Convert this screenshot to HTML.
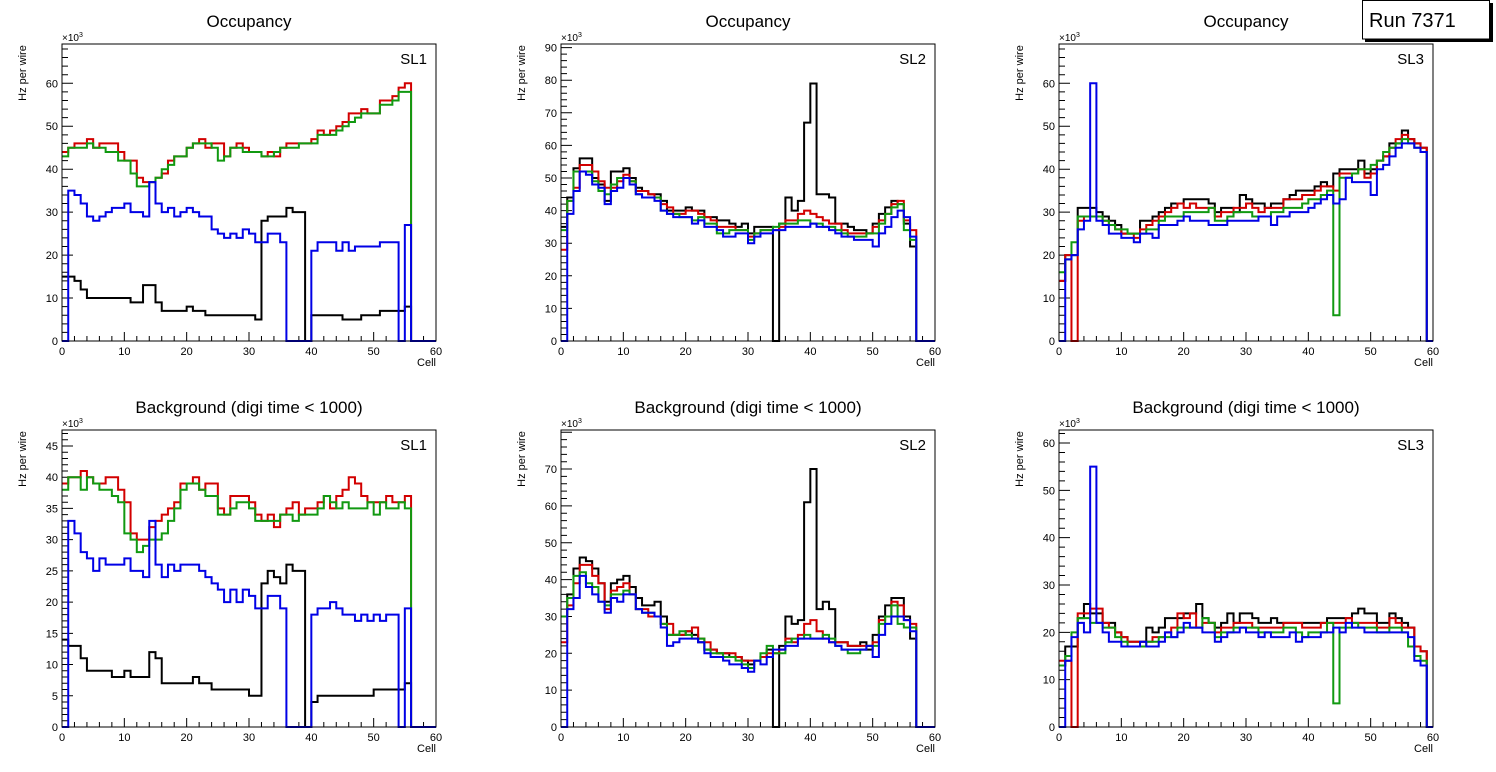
<!DOCTYPE html>
<html><head><meta charset="utf-8"><style>
html,body{margin:0;padding:0;background:#fff;}
svg{display:block;font-family:"Liberation Sans",sans-serif;}
</style></head><body>
<svg id="c" width="1496" height="772" viewBox="0 0 1496 772"></svg>
<script>
const cells = 60;
// Occupancy SL1
const occSL1Black=[15,15,14,12,10,10,10,10,10,10,10,9,9,13,13,9,7,7,7,7,8,7,7,6,6,6,6,6,6,6,6,5,28,29,29,29,31,30,30,0,6,6,6,6,6,5,5,5,6,6,6,7,7,7,7,8];
const occSL1Red=[44,45,46,46,47,45,46,46,46,44,42,42,38,37,37,38,39,42,43,43,45,46,47,45,46,46,43,45,46,45,44,44,43,44,43,45,46,46,46,46,47,49,48,49,50,51,53,53,54,53,53,56,56,57,59,60];
const occSL1Green=[43,45,45,45,46,45,45,44,44,42,42,39,36,36,37,38,40,41,43,43,45,46,46,46,45,42,43,45,45,44,44,44,43,43,44,45,45,45,46,46,46,48,48,48,49,50,51,52,53,53,53,55,55,56,58,58];
const occSL1Blue=[0,35,34,32,29,28,29,30,31,31,32,30,30,29,37,32,30,31,29,30,31,30,29,29,26,25,24,25,24,26,25,23,23,25,25,23,0,0,0,0,21,23,23,23,21,23,21,22,22,22,22,23,23,23,0,27];
// Occupancy SL2
const occSL2Black=[35,44,53,56,56,50,48,43,52,52,53,50,47,46,45,45,43,40,40,40,41,40,40,38,38,37,37,36,35,36,33,35,35,35,0,36,44,40,43,67,79,45,45,44,36,36,35,34,34,33,36,39,41,43,42,36,29];
const occSL2Red=[28,43,47,54,54,52,49,47,47,49,51,49,46,46,45,44,42,41,39,39,40,40,39,38,37,35,35,35,34,34,32,33,34,34,34,35,37,37,39,40,39,38,37,36,36,34,33,33,33,33,35,37,39,42,43,37,34];
const occSL2Green=[34,43,52,52,52,49,46,45,48,50,50,49,45,44,44,44,40,39,39,38,38,37,38,36,36,33,33,34,34,34,31,33,34,34,35,36,36,36,37,37,36,36,35,35,34,33,32,32,32,33,33,36,39,41,42,34,31];
const occSL2Blue=[0,39,46,52,51,48,47,42,46,47,50,48,45,44,44,43,40,39,38,38,38,36,37,35,35,34,32,32,33,33,30,32,33,33,34,34,35,35,35,35,36,35,35,34,33,32,32,31,31,31,29,33,35,38,40,38,32];
// Occupancy SL3
const occSL3Black=[14,20,20,31,31,31,30,29,28,27,25,25,25,28,28,29,30,31,32,32,33,33,33,33,32,30,31,31,30,34,33,32,32,31,32,32,33,34,35,35,35,36,37,36,39,40,40,40,42,39,40,42,43,46,46,49,47,46,45];
const occSL3Red=[14,20,0,28,29,29,29,28,27,26,25,25,24,26,27,28,29,30,31,32,31,32,31,31,31,29,30,30,31,31,32,31,30,31,31,31,33,33,33,34,34,35,36,36,35,39,39,39,40,38,39,42,43,45,47,48,47,46,45];
const occSL3Green=[16,19,23,29,29,29,29,28,27,26,26,25,25,25,26,26,28,29,29,29,30,30,30,30,31,28,28,29,30,30,30,29,29,29,30,30,31,31,31,32,33,33,34,35,6,38,38,39,40,40,41,42,44,45,46,47,46,45,44];
const occSL3Blue=[0,19,20,26,28,60,28,27,25,25,24,24,23,25,25,24,27,27,27,28,29,28,28,28,27,27,27,28,28,28,28,28,29,29,27,29,29,30,30,30,31,32,33,34,32,33,38,37,37,37,34,40,41,43,45,46,46,45,44];
// Background SL1
const bkgSL1Black=[14,13,13,11,9,9,9,9,8,8,9,8,8,8,12,11,7,7,7,7,7,8,7,7,6,6,6,6,6,6,5,5,23,25,24,23,26,25,25,0,4,5,5,5,5,5,5,5,5,5,6,6,6,6,6,7];
const bkgSL1Red=[39,40,40,41,40,39,39,40,40,38,36,31,30,30,32,33,34,35,36,39,39,40,38,39,39,35,34,37,37,37,36,34,33,34,32,34,35,36,34,35,35,36,37,35,37,38,40,39,37,36,36,36,37,36,36,37];
const bkgSL1Green=[38,40,40,38,40,39,38,38,37,36,31,30,28,29,30,30,31,33,35,38,39,39,38,37,37,34,34,35,36,36,35,33,33,33,33,34,34,33,34,34,34,35,37,36,35,36,35,35,35,36,34,36,35,35,36,35];
const bkgSL1Blue=[0,33,31,28,27,25,27,26,26,26,27,25,25,24,33,26,24,26,25,26,26,26,25,24,23,22,20,22,20,22,21,19,19,21,21,19,0,0,0,0,18,19,19,20,19,18,18,17,18,17,18,17,18,18,0,19];
// Background SL2
const bkgSL2Black=[30,36,43,46,45,43,39,34,39,40,41,38,35,33,33,34,30,25,25,25,26,25,23,21,21,20,20,19,19,18,17,18,19,21,0,22,30,28,29,61,70,32,34,32,23,23,22,22,23,21,25,30,33,35,35,30,24];
const bkgSL2Red=[23,33,39,44,44,41,39,32,37,38,39,36,32,32,30,30,28,28,25,25,26,27,24,23,21,20,20,20,19,18,18,18,19,20,20,21,24,23,25,28,29,26,24,23,23,23,22,22,22,22,23,29,30,34,33,29,28];
const bkgSL2Green=[30,35,41,42,39,38,34,33,36,36,37,36,32,31,31,30,28,25,25,26,25,24,24,21,20,20,19,19,18,17,16,18,20,22,20,20,23,24,24,25,24,24,25,24,22,21,20,20,21,22,22,28,30,33,28,27,27];
const bkgSL2Blue=[0,32,35,41,38,36,34,31,35,34,36,36,32,31,31,30,27,22,23,24,24,24,23,20,19,19,18,17,17,16,15,18,17,19,21,21,22,22,24,24,24,24,24,23,22,21,21,21,21,22,19,25,28,30,30,29,26];
// Background SL3
const bkgSL3Black=[13,17,17,23,26,24,24,22,22,20,19,18,18,18,21,20,21,23,23,23,24,24,26,23,22,21,22,24,22,24,24,23,22,22,23,22,22,22,22,22,22,22,22,23,23,23,23,24,25,24,24,22,22,24,23,22,21,17,16];
const bkgSL3Red=[14,14,0,24,24,25,25,22,21,20,19,18,18,18,18,19,19,20,21,24,23,24,21,22,22,20,21,21,22,22,22,21,21,21,21,21,22,22,22,21,21,21,22,22,22,22,23,22,22,22,22,21,21,23,22,21,21,17,16];
const bkgSL3Green=[13,15,20,23,23,22,22,21,21,19,18,17,17,17,18,18,19,19,19,21,21,21,21,23,22,19,20,20,21,21,21,21,20,20,20,20,21,21,20,19,20,20,20,22,5,21,21,22,21,21,21,20,20,21,21,20,17,15,14];
const bkgSL3Blue=[0,14,19,22,20,55,22,20,18,18,17,17,17,18,17,17,18,20,19,20,22,21,21,20,20,18,19,20,20,21,20,20,19,20,19,19,19,20,18,19,19,19,20,20,21,20,22,21,21,20,20,20,20,20,20,20,19,14,13];

const xTicks=[0,10,20,30,40,50,60];
const colors=['#000000','#d20000','#119911','#0000e6'];
const seriesNames=['black','red','green','blue'];
const panels=[
 {name:'occupancy-sl1',title:'Occupancy',sl:'SL1',left:62,top:44,bottom:341,ymax:69.15,step:10,minor:2,ytop:60,series:[occSL1Black,occSL1Red,occSL1Green,occSL1Blue]},
 {name:'occupancy-sl2',title:'Occupancy',sl:'SL2',left:561,top:44,bottom:341,ymax:91.1,step:10,minor:2,ytop:90,series:[occSL2Black,occSL2Red,occSL2Green,occSL2Blue]},
 {name:'occupancy-sl3',title:'Occupancy',sl:'SL3',left:1059,top:44,bottom:341,ymax:69.15,step:10,minor:2,ytop:60,series:[occSL3Black,occSL3Red,occSL3Green,occSL3Blue]},
 {name:'background-sl1',title:'Background (digi time < 1000)',sl:'SL1',left:62,top:430,bottom:727,ymax:47.56,step:5,minor:1,ytop:45,series:[bkgSL1Black,bkgSL1Red,bkgSL1Green,bkgSL1Blue]},
 {name:'background-sl2',title:'Background (digi time < 1000)',sl:'SL2',left:561,top:430,bottom:727,ymax:80.6,step:10,minor:2,ytop:70,series:[bkgSL2Black,bkgSL2Red,bkgSL2Green,bkgSL2Blue]},
 {name:'background-sl3',title:'Background (digi time < 1000)',sl:'SL3',left:1059,top:430,bottom:727,ymax:62.75,step:10,minor:2,ytop:60,series:[bkgSL3Black,bkgSL3Red,bkgSL3Green,bkgSL3Blue]}
];
const NS='http://www.w3.org/2000/svg';
const svg=document.getElementById('c');
function mk(tag,attrs,parent){const e=document.createElementNS(NS,tag);for(const k in attrs)e.setAttribute(k,attrs[k]);(parent||svg).appendChild(e);return e;}
const W=374;
panels.forEach(p=>{
  const g=mk('g',{});
  
  
  const xs=v=>p.left+v/cells*W;
  const ys=v=>p.bottom-v/p.ymax*(p.bottom-p.top);
  const cx=p.left+W/2;
  const t=mk('text',{x:cx,y:p.top-17,'text-anchor':'middle','font-size':'17'},g);t.textContent=p.title;
  
  
  const yl=mk('text',{x:0,y:0,transform:`translate(${p.left-36},${p.top+29}) rotate(-90)`,'text-anchor':'middle','font-size':'11'},g);yl.textContent='Hz per wire';
  
  
  const ex=mk('text',{x:p.left,y:p.top-3,'font-size':'10'},g);ex.innerHTML='×10<tspan dy="-4" font-size="7">3</tspan>';
  
  
  const xl=mk('text',{x:p.left+W,y:p.bottom+25,'text-anchor':'end','font-size':'11'},g);xl.textContent='Cell';
  
  
  // ticks
  let d='';
  for(let v=0;v<=cells+0.01;v+=2){const x=xs(v);const len=(v%10===0)?9:5;d+=`M${x},${p.bottom}V${p.bottom-len}`;}
  for(let v=0;v<=p.ymax;v+=p.minor){const y=ys(v);const len=(Math.abs(v%p.step)<1e-6)?11:6;d+=`M${p.left},${y}H${p.left+len}`;}
  const tk=mk('path',{d:d,stroke:'#000','stroke-width':'1',fill:'none'},g);
  
  
  xTicks.forEach(v=>{const l=mk('text',{x:xs(v),y:p.bottom+14,'text-anchor':'middle','font-size':'11'},g);l.textContent=v;
    
    });
  for(let v=0;v<=p.ytop;v+=p.step){const l=mk('text',{x:p.left-4,y:ys(v)+4,'text-anchor':'end','font-size':'11'},g);l.textContent=v;
    
    }
  // series
  p.series.forEach((arr,si)=>{
    let pd='';
    for(let i=0;i<cells;i++){const v=i<arr.length?arr[i]:0;const y=ys(v);
      pd+=(i===0?`M${xs(0)},${y}`:`V${y}`)+`H${xs(i+1)}`;}
    const path=mk('path',{d:pd,stroke:colors[si],'stroke-width':'2',fill:'none','stroke-linejoin':'miter'},g);
    
    
  });
  const fr=mk('rect',{x:p.left,y:p.top,width:W,height:p.bottom-p.top,fill:'none',stroke:'#000','stroke-width':'1'},g);
  
  
  const sl=mk('text',{x:p.left+W-9,y:p.top+20,'text-anchor':'end','font-size':'15'},g);sl.textContent=p.sl;
  
  
});
const rb=mk('g',{});


mk('rect',{x:1365,y:39,width:128,height:3,fill:'#000'},rb);
mk('rect',{x:1490,y:3,width:3,height:39,fill:'#000'},rb);
mk('rect',{x:1362.5,y:0.5,width:127,height:38.5,fill:'#fff',stroke:'#000','stroke-width':'1'},rb);
const rt=mk('text',{x:1369,y:27,'font-size':'20'},rb);rt.textContent='Run 7371';


</script>
</body></html>
